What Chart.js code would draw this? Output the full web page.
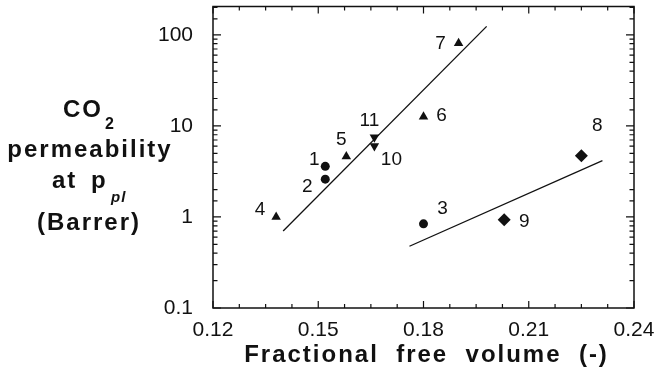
<!DOCTYPE html>
<html>
<head>
<meta charset="utf-8">
<title>CO2 permeability vs fractional free volume</title>
<script src="https://cdn.jsdelivr.net/npm/chart.js@4.4.0/dist/chart.umd.min.js"></script>
<style>
  html, body { margin: 0; padding: 0; background: #fff; }
  #wrap { width: 659px; height: 375px; position: relative; }
</style>
</head>
<body>
<div id="wrap"><canvas id="chart"></canvas></div>
<script>
// marker groups: ids, fractional free volume, CO2 permeability (Barrer)
const circleIds = ['1', '2', '3'];
const circleFfv = [0.152, 0.152, 0.180];
const circlePerm = [3.6, 2.6, 0.84];

const triUpIds = ['4', '5', '6', '7'];
const triUpFfv = [0.138, 0.158, 0.180, 0.190];
const triUpPerm = [1.0, 4.6, 12.6, 81];

const triDownIds = ['10', '11'];
const triDownFfv = [0.166, 0.166];
const triDownPerm = [6.0, 7.5];

const diamondIds = ['8', '9'];
const diamondFfv = [0.225, 0.203];
const diamondPerm = [4.7, 0.93];

// correlation lines (end points)
const upperFitFfv = [0.140, 0.198];
const upperFitPerm = [0.70, 124];
const lowerFitFfv = [0.176, 0.231];
const lowerFitPerm = [0.477, 4.15];

const xTickLabels = ['0.12', '0.15', '0.18', '0.21', '0.24'];
const yTickLabels = ['0.1', '1', '10', '100'];

// where each number sits relative to its marker (px)
const labelOffsets = {
    '1': [-11, -7], '2': [-18, 8], '3': [19, -15], '4': [-16, -7],
    '5': [-5, -17], '6': [18, -1], '7': [-18, 1], '8': [16, -30],
    '9': [20, 2], '10': [17, 14], '11': [-5, -17]
};

const FONT = "'Liberation Sans', Arial, Helvetica, sans-serif";
const INK = '#111';

function pts(xs, ys) {
    return xs.map((x, i) => ({ x: x, y: ys[i] }));
}

function markerSet(ids, xs, ys, style, radius, rotation) {
    return {
        type: 'scatter',
        data: pts(xs, ys),
        ids: ids,
        pointStyle: style,
        pointRadius: radius,
        pointHoverRadius: radius,
        pointRotation: rotation || 0,
        backgroundColor: INK,
        borderColor: INK,
        borderWidth: 0
    };
}

function fitLine(xs, ys) {
    return {
        type: 'line',
        data: pts(xs, ys),
        borderColor: INK,
        borderWidth: 1.3,
        pointRadius: 0,
        fill: false
    };
}

// no extra room around the axes: the plot box is fixed by afterFit
function noPad(s) {
    s.paddingTop = 0;
    s.paddingBottom = 0;
    s.paddingLeft = 0;
    s.paddingRight = 0;
}

// frame with inward ticks on all four sides
const frameTicks = {
    id: 'frameTicks',
    afterDatasetsDraw(chart) {
        const { ctx, chartArea: a, scales } = chart;
        const xs = scales.x, ys = scales.y;
        ctx.save();
        ctx.strokeStyle = INK;
        ctx.lineWidth = 1.5;
        ctx.strokeRect(a.left, a.top, a.right - a.left, a.bottom - a.top);

        ctx.lineWidth = 1.2;
        ctx.beginPath();
        // x: major every 0.03, minor every 0.0075
        for (let k = 0; k <= 16; k++) {
            const v = 0.12 + k * 0.0075;
            const px = xs.getPixelForValue(v);
            const len = (k % 4 === 0) ? 7 : 4;
            ctx.moveTo(px, a.bottom); ctx.lineTo(px, a.bottom - len);
            ctx.moveTo(px, a.top); ctx.lineTo(px, a.top + len);
        }
        // y: log ticks from the scale
        ys.ticks.forEach(t => {
            const v = t.value;
            if (v < ys.min || v > ys.max) return;
            const lg = Math.log10(v);
            const major = Math.abs(lg - Math.round(lg)) < 1e-6;
            const py = ys.getPixelForValue(v);
            const len = major ? 8 : 4.5;
            ctx.moveTo(a.left, py); ctx.lineTo(a.left + len, py);
            ctx.moveTo(a.right, py); ctx.lineTo(a.right - len, py);
        });
        ctx.stroke();

        // marker numbers
        ctx.fillStyle = INK;
        ctx.font = '19px ' + FONT;
        ctx.textAlign = 'center';
        ctx.textBaseline = 'middle';
        chart.data.datasets.forEach((ds, di) => {
            if (!ds.ids) return;
            const meta = chart.getDatasetMeta(di);
            meta.data.forEach((el, i) => {
                const id = ds.ids[i];
                const off = labelOffsets[id];
                ctx.fillText(id, el.x + off[0], el.y + off[1]);
            });
        });
        ctx.restore();
    }
};

// axis titles
const axisTitles = {
    id: 'axisTitles',
    afterDraw(chart) {
        const { ctx, chartArea: a } = chart;
        ctx.save();
        ctx.fillStyle = INK;
        ctx.textBaseline = 'alphabetic';
        ctx.letterSpacing = '2px';

        ctx.font = 'bold 24px ' + FONT;
        ctx.textAlign = 'center';
        ctx.fillText('Fractional  free  volume  (-)', (a.left + a.right) / 2 + 3, 362);

        // y title, stacked
        ctx.textAlign = 'left';
        ctx.font = 'bold 24px ' + FONT;
        ctx.fillText('CO', 63, 117);
        ctx.font = 'bold 16px ' + FONT;
        ctx.fillText('2', 105, 129);

        ctx.font = 'bold 24px ' + FONT;
        ctx.textAlign = 'center';
        ctx.fillText('permeability', 90, 157);
        ctx.fillText('(Barrer)', 89, 230);

        ctx.textAlign = 'left';
        ctx.fillText('at', 52, 188);
        ctx.fillText('p', 91, 188);
        ctx.font = 'italic bold 15px ' + FONT;
        ctx.letterSpacing = '1px';
        ctx.fillText('pl', 111, 202);
        ctx.restore();
    }
};

new Chart(document.getElementById('chart'), {
    data: {
        datasets: [
            fitLine(upperFitFfv, upperFitPerm),
            fitLine(lowerFitFfv, lowerFitPerm),
            markerSet(circleIds, circleFfv, circlePerm, 'circle', 4.5),
            markerSet(triUpIds, triUpFfv, triUpPerm, 'triangle', 5.5),
            markerSet(triDownIds, triDownFfv, triDownPerm, 'triangle', 5.5, 180),
            markerSet(diamondIds, diamondFfv, diamondPerm, 'rectRot', 6.5)
        ]
    },
    options: {
        responsive: true,
        maintainAspectRatio: false,
        animation: false,
        layout: { padding: { top: 5, right: 25, left: 0, bottom: 0 } },
        plugins: {
            legend: { display: false },
            tooltip: { enabled: false }
        },
        scales: {
            x: {
                type: 'linear',
                position: 'bottom',
                min: 0.12,
                max: 0.24,
                grid: { display: false, drawTicks: false },
                border: { display: false },
                ticks: {
                    stepSize: 0.03,
                    autoSkip: false,
                    maxRotation: 0,
                    padding: 10,
                    color: INK,
                    font: { family: FONT, size: 21 },
                    callback: v => {
                        const s = Number(v).toFixed(2);
                        return xTickLabels.includes(s) ? s : '';
                    }
                },
                afterFit: s => { s.height = 67; noPad(s); }
            },
            y: {
                type: 'logarithmic',
                position: 'left',
                min: 0.1,
                max: 205,
                grid: { display: false, drawTicks: false },
                border: { display: false },
                ticks: {
                    autoSkip: false,
                    padding: 20,
                    color: INK,
                    font: { family: FONT, size: 21 },
                    callback: v => {
                        const lg = Math.log10(v);
                        if (Math.abs(lg - Math.round(lg)) > 1e-6) return '';
                        const s = String(Math.pow(10, Math.round(lg)).toFixed(Math.max(0, -Math.round(lg))));
                        return yTickLabels.includes(s) ? s : '';
                    }
                },
                afterFit: s => { s.width = 213; noPad(s); }
            }
        }
    },
    plugins: [frameTicks, axisTitles]
});
</script>
</body>
</html>
